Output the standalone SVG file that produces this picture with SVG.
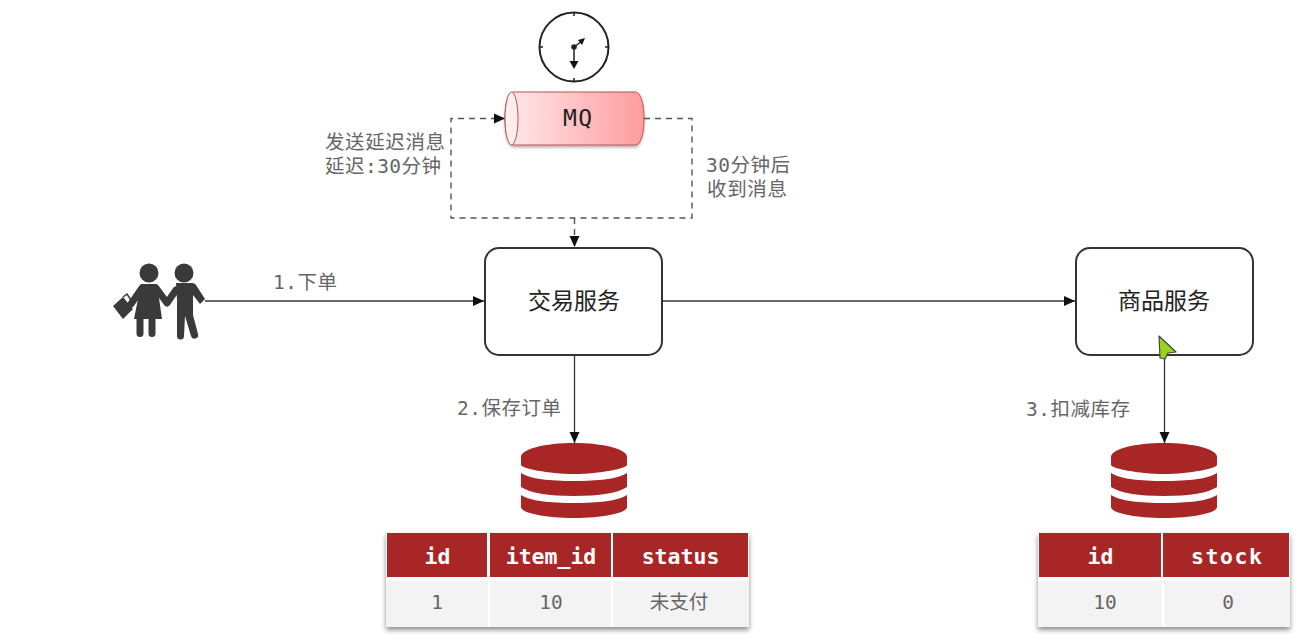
<svg xmlns="http://www.w3.org/2000/svg" width="1306" height="644" viewBox="0 0 1306 644">
<style>
text{font-family:"DejaVu Sans Mono","Noto Sans CJK SC",monospace}
.lb{font-size:19.5px;fill:#666}
.box{fill:#fff;stroke:#333;stroke-width:2}
.bt{font-size:23px;fill:#222;text-anchor:middle;font-family:"Noto Sans CJK SC",sans-serif}
.c{fill:none;stroke:#333;stroke-width:1.3}
.d{fill:none;stroke:#555;stroke-width:1.4;stroke-dasharray:6 5}
.th{fill:#a92626}
.td{fill:#f3f3f3}
.tht{font-size:21.5px;font-weight:bold;fill:#fff;text-anchor:middle}
.tdt{font-size:19.5px;fill:#666;text-anchor:middle}
.db{fill:#a92626}
.p{fill:#3a3a3a}
.pl{stroke:#3a3a3a;stroke-width:7;stroke-linecap:round;fill:none;stroke-linejoin:round}
</style>
<defs>
<marker id="a" markerUnits="userSpaceOnUse" markerWidth="12" markerHeight="12" refX="11" refY="6" orient="auto"><path d="M0 1L11 6L0 11Z" fill="#111"/></marker>
<linearGradient id="mq" x1="0" x2="1" y1="0" y2="0"><stop offset="0" stop-color="#ffe9ec"/><stop offset="1" stop-color="#ff9c9e"/></linearGradient>
<filter id="s" x="-10%" y="-10%" width="120%" height="125%"><feDropShadow dx="0" dy="3" stdDeviation="2.5" flood-color="#000" flood-opacity=".45"/></filter>
<filter id="s2" x="-10%" y="-20%" width="120%" height="150%"><feDropShadow dx="0" dy="2" stdDeviation="1.5" flood-color="#000" flood-opacity=".3"/></filter>
</defs>
<rect width="1306" height="644" fill="#fff"/>
<g id="connectors">
<path class="c" d="M205 301H484" marker-end="url(#a)"/>
<path class="c" d="M662 301H1075" marker-end="url(#a)"/>
<path class="c" d="M574.500 355V443" marker-end="url(#a)"/>
<path class="c" d="M1164.500 355V443" marker-end="url(#a)"/>
<path class="d" d="M644 118.500H692V218H451V118.500H505" marker-end="url(#a)"/>
<path class="d" d="M574.500 218V247" marker-end="url(#a)"/>
</g>
<g id="clock">
<circle cx="574" cy="47" r="34.500" fill="#fff" stroke="#222" stroke-width="2"/>
<path d="M574 13v3M574 78v3M540 47h3M605 47h3" stroke="#222" stroke-width="1.500"/>
<circle cx="574" cy="47" r="2.800" fill="#222"/>
<path d="M574 47V63M574 47L582 41" stroke="#222" stroke-width="1.500"/>
<path d="M569.500 61H578.500L574 69Z" fill="#111"/>
<path d="M578 40L585 38L582 45Z" fill="#111"/>
</g>
<g id="mq-node">
<path d="M514 92H635C641 92 644 104 644 118.500C644 133 641 145 635 145H514C508 145 505 133 505 118.500C505 104 508 92 514 92Z" fill="url(#mq)" stroke="#b85450" stroke-width="1" filter="url(#s2)"/>
<ellipse cx="511.500" cy="118.500" rx="6.500" ry="26.500" fill="#ffecee" stroke="#b85450" stroke-width="1"/>
<text x="577.500" y="126" font-size="23" fill="#222" text-anchor="middle" textLength="29">MQ</text>
</g>
<g id="labels">
<text class="lb" x="325" y="149" textLength="120">发送延迟消息</text>
<text class="lb" x="325" y="173" textLength="116">延迟:30分钟</text>
<text class="lb" x="706" y="172" textLength="84">30分钟后</text>
<text class="lb" x="707" y="196" textLength="80">收到消息</text>
<text class="lb" x="273" y="289" textLength="64">1.下单</text>
<text class="lb" x="457" y="415" textLength="104">2.保存订单</text>
<text class="lb" x="1026" y="416" textLength="104">3.扣减库存</text>
</g>
<g id="person">
<circle class="p" cx="149" cy="273" r="9.500"/>
<circle class="p" cx="184" cy="273" r="9.500"/>
<path class="p" d="M141 284H157L162 319H134Z"/>
<path class="pl" d="M140 318V333.500M152 318V333.500"/>
<path class="pl" d="M142 288L131 304M156 288L167 303L176 290"/>
<path class="p" d="M176 283H192C194 283 195 284 196 285L205 299L200 304L193 295L193 315L198 334A3.500 3.500 0 0 1 191 336L185 316L184 336A3.500 3.500 0 0 1 177 336L177 300Z"/>
<path class="p" d="M113 306L123 297L133 309L123 319Z"/>
<path d="M123 297L127 294L131 300" fill="none" stroke="#3a3a3a" stroke-width="1.500"/>
</g>
<g id="trade-service">
<rect class="box" x="485" y="248" width="177" height="107" rx="14"/>
<text class="bt" x="574" y="309">交易服务</text>
</g>
<g id="goods-service">
<rect class="box" x="1076" y="248" width="177" height="107" rx="14"/>
<text class="bt" x="1164" y="309">商品服务</text>
</g>
<g id="db1">
<path class="db" d="M521 457C521 449 545 443 574 443S627 449 627 457V465C627 468 600 474 574 474S521 468 521 465Z"/>
<path class="db" d="M521 473C530 479 550 481 574 481S618 479 627 473V487C618 493 600 496 574 496S530 493 521 487Z"/>
<path class="db" d="M521 495C530 501 550 503 574 503S618 501 627 495V507C627 513 603 518 574 518S521 513 521 507Z"/>
</g>
<g id="db2">
<path class="db" d="M1111 457C1111 449 1135 443 1164 443S1217 449 1217 457V465C1217 468 1190 474 1164 474S1111 468 1111 465Z"/>
<path class="db" d="M1111 473C1120 479 1140 481 1164 481S1208 479 1217 473V487C1208 493 1190 496 1164 496S1120 493 1111 487Z"/>
<path class="db" d="M1111 495C1120 501 1140 503 1164 503S1208 501 1217 495V507C1217 513 1193 518 1164 518S1111 513 1111 507Z"/>
</g>
<g id="order-table">
<rect x="386" y="533" width="363" height="94" fill="#fff" filter="url(#s)"/>
<rect class="th" x="387" y="533" width="100" height="44"/>
<rect class="th" x="490" y="533" width="121" height="44"/>
<rect class="th" x="613" y="533" width="135" height="44"/>
<rect class="td" x="386" y="581" width="102" height="46"/>
<rect class="td" x="490" y="581" width="121" height="46"/>
<rect class="td" x="613" y="581" width="136" height="46"/>
<text class="tht" x="437.500" y="564">id</text>
<text class="tht" x="551" y="564">item_id</text>
<text class="tht" x="680.500" y="564">status</text>
<text class="tdt" x="437" y="609">1</text>
<text class="tdt" x="551" y="609">10</text>
<text class="tdt" x="679" y="609" font-size="20">未支付</text>
</g>
<g id="stock-table">
<rect x="1038" y="533" width="252" height="94" fill="#fff" filter="url(#s)"/>
<rect class="th" x="1039" y="533" width="122" height="44"/>
<rect class="th" x="1163" y="533" width="126" height="44"/>
<rect class="td" x="1038" y="581" width="124" height="46"/>
<rect class="td" x="1164" y="581" width="126" height="46"/>
<text class="tht" x="1100.500" y="564">id</text>
<text class="tht" x="1226.500" y="564" textLength="71">stock</text>
<text class="tdt" x="1105" y="609">10</text>
<text class="tdt" x="1228" y="609">0</text>
</g>
<g id="cursor">
<path d="M1159 336L1176 352L1168 353L1165 359L1160 358Z" fill="#9bd21f" stroke="#444" stroke-width="1.200" stroke-linejoin="round"/>
</g>
</svg>
